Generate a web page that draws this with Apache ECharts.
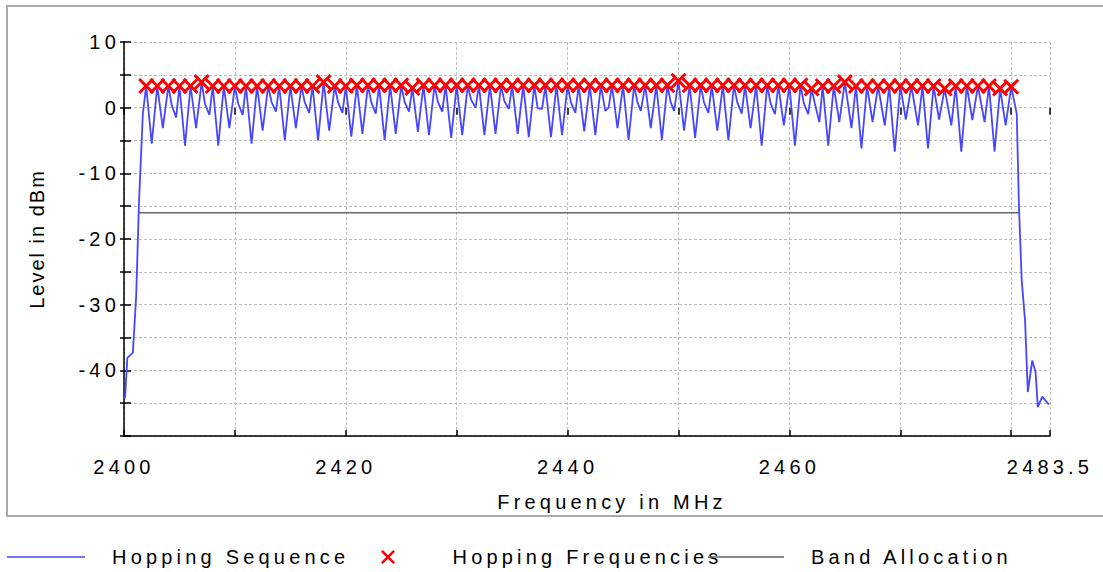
<!DOCTYPE html>
<html><head><meta charset="utf-8">
<script src="https://cdn.jsdelivr.net/npm/echarts@6/dist/echarts.min.js"></script>
<style>
html,body{margin:0;padding:0;background:#fff;}
#chart{width:1103px;height:572px;}
#chart svg text{letter-spacing:4.2px;}
#chart svg text.yname{letter-spacing:2px;}
</style></head><body><div id="chart"></div>
<script>
// ---- data ----
const hopFreq = [2402,2403,2404,2405,2406,2407,2408,2409,2410,2411,2412,2413,2414,2415,2416,2417,2418,2419,2420,2421,
  2422,2423,2424,2425,2426,2427,2428,2429,2430,2431,2432,2433,2434,2435,2436,2437,2438,2439,2440,2441,
  2442,2443,2444,2445,2446,2447,2448,2449,2450,2451,2452,2453,2454,2455,2456,2457,2458,2459,2460,2461,
  2462,2463,2464,2465,2466,2467,2468,2469,2470,2471,2472,2473,2474,2475,2476,2477,2478,2479,2480];
const hopLevel = [3.3,3.3,3.3,3.3,3.3,3.9,3.3,3.3,3.3,3.3,3.3,3.3,3.3,3.3,3.3,3.3,3.9,3.3,3.3,3.4,
  3.4,3.4,3.4,3.4,3.0,3.4,3.4,3.4,3.4,3.4,3.4,3.4,3.4,3.4,3.4,3.4,3.4,3.4,3.4,3.4,
  3.4,3.4,3.4,3.4,3.4,3.4,3.4,3.4,4.1,3.4,3.4,3.4,3.4,3.4,3.4,3.4,3.4,3.4,3.4,3.4,
  2.9,3.3,3.3,3.9,3.3,3.3,3.3,3.3,3.3,3.3,3.3,3.3,2.9,3.3,3.3,3.3,3.3,2.9,3.2];
const gapFreq = [2402.5,2403.5,2404.3,2404.7,2405.5,2406.5,2407.3,2407.7,2408.5,2409.5,2410.3,2410.7,
  2411.5,2412.5,2413.3,2413.7,2414.5,2415.5,2416.3,2416.7,2417.5,2418.5,2419.3,2419.7,
  2420.5,2421.5,2422.3,2422.7,2423.5,2424.5,2425.3,2425.7,2426.5,2427.5,2428.3,2428.7,
  2429.5,2430.5,2431.3,2431.7,2432.5,2433.5,2434.3,2434.7,2435.5,2436.5,2437.3,2437.7,
  2438.5,2439.5,2440.3,2440.7,2441.5,2442.5,2443.4,2443.7,2444.5,2445.5,2446.3,2446.6,
  2447.5,2448.5,2449.3,2449.6,2450.5,2451.5,2452.3,2452.7,2453.5,2454.5,2455.3,2455.7,
  2456.5,2457.5,2458.3,2458.7,2459.5,2460.5,2461.3,2461.7,2462.3,2462.7,2463.5,2464.5,
  2465.6,2466.5,2467.5,2468.6,2469.5,2470.5,2471.6,2472.5,2473.5,2474.6,2475.5,2476.5,
  2477.6,2478.5,2479.5];
const gapLevel = [-5.5,-3.1,0.4,-1.5,-5.8,-3.1,0.6,-1.1,-5.8,-3.1,0.6,-1.1,
  -5.5,-3.5,0.9,-0.6,-5.0,-3.1,0.8,-0.8,-5.0,-3.5,0.8,-0.8,
  -4.4,-4.0,0.8,-0.9,-4.9,-4.0,0.9,-0.6,-3.7,-4.2,0.9,-0.6,
  -4.6,-4.2,1.2,0.0,-4.2,-4.0,1.0,-0.2,-4.0,-4.5,-0.1,-0.2,
  -4.5,-4.2,0.8,-0.8,-3.6,-4.2,-0.5,0.0,-3.1,-4.9,0.8,-0.5,
  -3.1,-4.9,0.8,-0.5,-3.5,-4.6,0.8,-0.8,-3.5,-5.0,0.8,-0.9,
  -3.1,-5.8,0.7,-1.0,-2.7,-5.8,0.7,-1.0,0.6,-2.2,-5.8,-2.2,
  -3.1,-6.2,-2.2,-2.7,-6.7,-1.8,-2.7,-6.2,-1.8,-2.7,-6.7,-1.9,
  -2.2,-6.7,-2.7];
const edgeLowFreq = [2400.0,2400.1,2400.3,2400.8,2401.1,2401.35,2401.7];
const edgeLowLevel = [-44.3,-44.1,-38.1,-37.3,-28.6,-14.5,-0.9];
const edgeHighFreq = [2480.5,2480.7,2480.95,2481.25,2481.5,2481.9,2482.2,2482.4,2482.8,2483.4];
const edgeHighLevel = [-0.9,-15.0,-26.3,-32.4,-43.3,-38.5,-40.3,-45.6,-44.0,-45.2];
const bandFreq = [2401.3,2480.7];
const bandLevel = [-16,-16];
const xTickLabels = [2400,2420,2440,2460,2483.5];
const yTickLabels = [10,0,-10,-20,-30,-40];

// ---- build tables ----
function zip(a,b){return a.map((v,i)=>[v,b[i]]);}
const seqData = [].concat(zip(edgeLowFreq,edgeLowLevel), zip(hopFreq,hopLevel), zip(gapFreq,gapLevel), zip(edgeHighFreq,edgeHighLevel))
  .sort((p,q)=>p[0]-q[0]);
const hopData = zip(hopFreq,hopLevel);
const bandData = zip(bandFreq,bandLevel);

const XPATH = 'path://M0,1.3L1.3,0L5,3.7L8.7,0L10,1.3L6.3,5L10,8.7L8.7,10L5,6.3L1.3,10L0,8.7L3.7,5Z';
const LINEICON = 'path://M0,0L100,0L100,2L0,2Z';
const FONT = 'Liberation Sans, Arial, sans-serif';
const FS = 20;

const chart = echarts.init(document.getElementById('chart'), null, {renderer:'svg'});
const gridLine = {show:true, lineStyle:{color:'#bdbdbd', width:1, type:[3,2]}};
function legendOf(left, name, icon, w, pad){
  return {orient:'horizontal', left:left, top:547, padding:0, itemWidth:w, itemHeight:14, itemGap:0,
    data:[{name:name, icon:icon}],
    textStyle:{fontFamily:FONT, fontSize:FS, color:'#000', padding:[0,0,0,pad]}};
}
chart.setOption({
  animation:false,
  backgroundColor:'#fff',
  graphic:[{type:'rect', shape:{x:7, y:6, width:1120, height:510}, style:{fill:'none', stroke:'#a9a9a9', lineWidth:2}, silent:true, z:-10}],
  grid:{left:124, right:53, top:42, bottom:136, containLabel:false},
  legend:[
    legendOf(7, 'Hopping Sequence', LINEICON, 78, 22),
    legendOf(381, 'Hopping Frequencies', XPATH, 15, 52),
    legendOf(708, 'Band Allocation', LINEICON, 76, 22)
  ],
  xAxis:[{
    type:'value', min:2400, max:2483.5, interval:10, position:'bottom',
    name:'Frequency in MHz', nameLocation:'middle', nameGap:56,
    nameTextStyle:{fontFamily:FONT, fontSize:FS, color:'#000', padding:[0,0,0,50]},
    axisLine:{show:true, onZero:false, lineStyle:{color:'#000', width:1.5}},
    axisTick:{show:true, inside:true, length:6, lineStyle:{color:'#000', width:1.5}},
    axisLabel:{show:true, margin:21, fontFamily:FONT, fontSize:FS, color:'#000', hideOverlap:false,
      showMinLabel:true, showMaxLabel:true,
      formatter:v=> xTickLabels.some(t=>Math.abs(t-v)<1e-6) ? String(v) : ''},
    splitLine:gridLine
  },{
    type:'value', min:2400, max:2483.5, interval:10, position:'bottom', offset:0,
    axisLine:{show:false}, axisLabel:{show:false}, splitLine:{show:false},
    axisTick:{show:true, inside:false, length:7, lineStyle:{color:'#000', width:1.5}}
  }],
  yAxis:[{
    type:'value', min:-50, max:10, interval:5, position:'left',
    name:'Level in dBm', nameLocation:'middle', nameGap:77, nameRotate:90,
    nameTextStyle:{fontFamily:FONT, fontSize:FS, color:'#000'},
    axisLine:{show:true, onZero:false, lineStyle:{color:'#000', width:1.5}},
    axisTick:{show:true, inside:true, length:7, lineStyle:{color:'#000', width:1.5}},
    axisLabel:{show:true, margin:4, fontFamily:FONT, fontSize:FS, color:'#000',
      formatter:v=> yTickLabels.indexOf(v)>=0 ? String(v) : ''},
    splitLine:gridLine
  },{
    type:'value', min:-50, max:10, interval:5, position:'left', offset:0,
    axisLine:{show:false}, axisLabel:{show:false}, splitLine:{show:false},
    axisTick:{show:true, inside:false, length:4, lineStyle:{color:'#000', width:1.5}}
  }],
  series:[
    {name:'Band Allocation', type:'line', data:bandData, showSymbol:false, symbol:'none',
      lineStyle:{color:'#666666', width:1.5}, itemStyle:{color:'#666666'}, z:2},
    {name:'Hopping Sequence', type:'line', data:seqData, showSymbol:false, symbol:'none',
      lineStyle:{color:'#4646ff', width:1.8}, itemStyle:{color:'#4646ff'}, z:3},
    {name:'Hopping Frequencies', type:'scatter', data:hopData, symbol:XPATH, symbolSize:16,
      itemStyle:{color:'#ff0000', opacity:1}, z:4}
  ]
});
function tagYName(){
  document.querySelectorAll('#chart svg text').forEach(t=>{
    if (t.textContent === 'Level in dBm') t.classList.add('yname');
  });
}
tagYName();
chart.on('finished', tagYName);
setTimeout(tagYName, 50);
</script></body></html>
